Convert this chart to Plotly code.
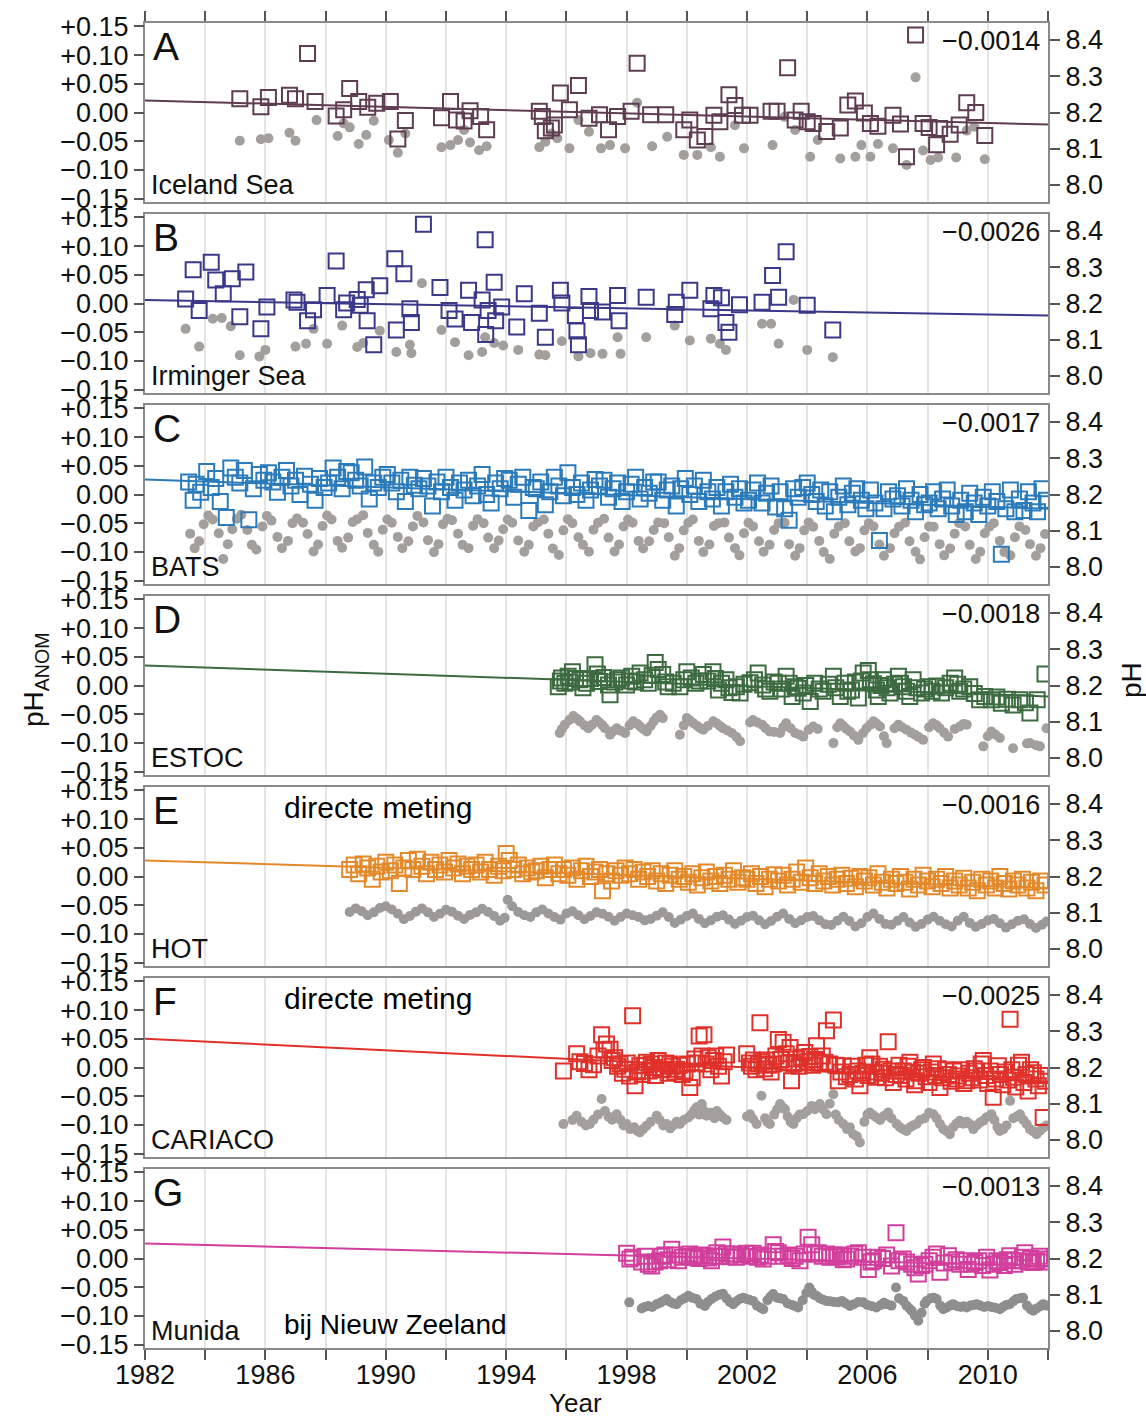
import plotly.graph_objects as go

# ---------------- DATA ----------------
letters = ["A", "B", "C", "D", "E", "F", "G"]
station_names = ["Iceland Sea", "Irminger Sea", "BATS", "ESTOC", "HOT", "CARIACO", "Munida"]
slope_labels = ["\u22120.0014", "\u22120.0026", "\u22120.0017", "\u22120.0018", "\u22120.0016", "\u22120.0025", "\u22120.0013"]
trend_years = [1982, 2012]
trend_start = [0.021, 0.006, 0.026, 0.035, 0.028, 0.050, 0.026]
trend_end = [-0.021, -0.021, -0.025, -0.019, -0.020, -0.025, -0.013]

anom_ticks = [-0.15, -0.10, -0.05, 0.0, 0.05, 0.10, 0.15]
anom_ticktext = ["\u22120.15", "\u22120.10", "\u22120.05", "0.00", "+0.05", "+0.10", "+0.15"]
ph_ticks = [8.0, 8.1, 8.2, 8.3, 8.4]
ph_ticktext = ["8.0", "8.1", "8.2", "8.3", "8.4"]
year_ticks = list(range(1982, 2013, 2))
year_labels = ["1982", " ", "1986", " ", "1990", " ", "1994", " ", "1998", " ", "2002", " ", "2006", " ", "2010", " "]

iceland_sq = [(1985.15,0.024),(1985.85,0.010),(1986.1,0.026),(1986.8,0.030),(1987.0,0.024),(1987.4,0.103),(1987.65,0.019),
 (1988.35,-0.006),(1988.6,0.005),(1988.8,0.042),(1989.1,0.019),(1989.4,0.009),(1989.7,0.016),(1990.15,0.019),(1990.4,-0.046),
 (1990.65,-0.014),(1991.85,-0.009),(1992.15,0.019),(1992.35,-0.013),(1992.6,-0.015),(1992.8,0.003),(1993.15,-0.007),(1993.35,-0.030),
 (1995.1,0.002),(1995.2,-0.007),(1995.3,-0.032),(1995.5,-0.027),(1995.6,-0.022),(1995.8,0.034),(1996.1,0.005),(1996.4,0.047),
 (1996.75,-0.010),(1997.1,-0.004),(1997.4,-0.030),(1997.7,-0.007),(1998.15,0.002),(1998.35,0.086),(1998.8,-0.004),(1999.3,-0.004),
 (1999.9,-0.030),(2000.1,-0.013),(2000.35,-0.048),(2000.6,-0.042),(2000.9,-0.005),(2001.1,-0.016),(2001.4,0.031),(2001.6,0.012),
 (2001.85,-0.005),(2002.1,-0.005),(2002.8,0.002),(2003.0,0.002),(2003.35,0.078),(2003.6,-0.013),(2003.8,0.002),(2004.0,-0.016),
 (2004.2,-0.019),(2004.65,-0.033),(2005.1,-0.027),(2005.35,0.013),(2005.6,0.020),(2005.9,-0.001),(2006.1,-0.019),(2006.35,-0.024),
 (2006.85,-0.005),(2007.1,-0.020),(2007.3,-0.077),(2007.6,0.135),(2007.85,-0.019),(2008.05,-0.026),(2008.3,-0.056),(2008.4,-0.028),
 (2008.75,-0.038),(2009.05,-0.022),(2009.3,0.017),(2009.6,0.000),(2009.9,-0.040)]
iceland_dots = [(1985.15,8.122),(1985.85,8.126),(1986.1,8.129),(1986.8,8.144),(1987.0,8.122),(1987.7,8.179),(1988.4,8.135),
 (1988.6,8.170),(1988.8,8.159),(1989.1,8.113),(1989.35,8.138),(1989.6,8.177),(1990.1,8.124),(1990.4,8.089),(1990.65,8.142),
 (1991.85,8.104),(1992.15,8.110),(1992.4,8.124),(1992.6,8.152),(1992.8,8.117),(1993.1,8.096),(1993.35,8.107),(1995.1,8.104),
 (1995.3,8.119),(1995.5,8.142),(1995.7,8.129),(1996.1,8.101),(1996.4,8.179),(1996.75,8.147),(1997.15,8.101),(1997.45,8.110),
 (1997.95,8.101),(1998.35,8.227),(1998.85,8.107),(1999.35,8.133),(1999.9,8.083),(2000.35,8.083),(2000.8,8.104),(2001.1,8.078),
 (2001.6,8.165),(2001.9,8.101),(2002.85,8.110),(2003.25,8.188),(2003.6,8.152),(2004.1,8.078),(2004.35,8.124),(2005.1,8.073),
 (2005.6,8.078),(2005.8,8.110),(2006.1,8.078),(2006.35,8.113),(2006.85,8.101),(2007.3,8.055),(2007.6,8.297),(2007.85,8.095),
 (2008.1,8.069),(2008.35,8.076),(2008.95,8.076),(2009.3,8.150),(2009.55,8.161),(2009.9,8.071)]

irminger_sq = [(1983.35,0.008),(1983.6,0.059),(1983.8,-0.012),(1984.2,0.072),(1984.35,0.041),(1984.6,0.017),(1984.9,0.043),
 (1985.15,-0.023),(1985.35,0.055),(1985.85,-0.044),(1986.05,-0.006),(1986.95,0.006),(1987.05,0.002),(1987.4,-0.030),(1987.6,-0.011),
 (1988.05,0.014),(1988.35,0.074),(1988.6,-0.011),(1988.7,0.001),(1989.05,0.007),(1989.15,-0.003),(1989.35,0.024),(1989.38,-0.030),
 (1989.6,-0.072),(1989.8,0.031),(1990.3,0.078),(1990.35,-0.046),(1990.6,0.052),(1990.8,-0.009),(1990.85,-0.033),(1991.25,0.138),
 (1991.8,0.028),(1992.1,-0.012),(1992.3,-0.027),(1992.75,0.023),(1992.85,-0.033),(1993.2,0.006),(1993.3,0.111),(1993.32,-0.054),
 (1993.4,-0.012),(1993.6,0.037),(1993.65,-0.030),(1993.85,-0.006),(1994.35,-0.041),(1994.6,0.017),(1995.1,-0.017),(1995.3,-0.059),
 (1995.8,0.023),(1995.85,0.001),(1996.3,-0.021),(1996.35,-0.048),(1996.4,-0.072),(1996.75,0.012),(1996.8,-0.012),(1997.2,-0.015),
 (1997.7,0.014),(1997.75,-0.030),(1998.65,0.011),(1999.6,-0.019),(1999.65,0.002),(2000.1,0.023),(2000.8,-0.009),(2000.9,0.014),
 (2001.15,0.010),(2001.3,-0.033),(2001.4,-0.050),(2001.75,-0.002),(2002.5,0.002),(2002.85,0.049),(2003.05,0.011),(2003.3,0.090),
 (2004.0,-0.003),(2004.85,-0.046)]
irminger_dots = [(1983.35,8.130),(1983.8,8.081),(1984.25,8.158),(1984.55,8.160),(1984.85,8.137),(1985.15,8.057),(1985.8,8.054),
 (1986.0,8.072),(1987.0,8.081),(1987.35,8.089),(1987.6,8.130),(1988.05,8.089),(1988.55,8.139),(1989.05,8.080),(1989.25,8.091),
 (1989.8,8.125),(1990.35,8.066),(1990.8,8.086),(1990.85,8.063),(1991.2,8.256),(1991.85,8.127),(1992.3,8.093),(1992.75,8.057),
 (1993.2,8.066),(1993.3,8.107),(1993.6,8.091),(1993.9,8.084),(1994.4,8.072),(1995.1,8.059),(1995.3,8.057),(1995.85,8.096),
 (1996.4,8.054),(1996.8,8.063),(1997.2,8.061),(1997.7,8.107),(1997.8,8.061),(1998.65,8.107),(1999.6,8.139),(2000.1,8.098),
 (2000.8,8.103),(2001.1,8.089),(2001.3,8.072),(2002.5,8.144),(2002.8,8.144),(2003.05,8.089),(2003.55,8.210),(2004.0,8.072),
 (2004.85,8.052)]

bats_sq = [(1983.45,0.022),(1983.6,-0.010),(1983.7,0.018),(1983.85,0.004),
 (1984.05,0.040),(1984.2,0.012),(1984.35,0.028),(1984.5,-0.012),(1984.7,-0.040),(1984.85,0.046),
 (1985.0,0.030),(1985.15,0.020),(1985.3,0.042),(1985.45,-0.044),(1985.6,0.010),(1985.8,0.035),(1985.95,0.025),
 (1986.1,0.038),(1986.25,0.022),(1986.4,0.004),(1986.55,0.030),(1986.7,0.042),(1986.85,0.015),
 (1987.0,0.025),(1987.15,0.000),(1987.3,0.032),(1987.5,0.018),(1987.65,-0.010),(1987.8,0.028),(1987.95,0.012),
 (1988.1,0.020),(1988.25,0.046),(1988.4,0.030),(1988.55,0.010),(1988.7,0.040),(1988.85,0.038),
 (1989.0,0.025),(1989.15,0.015),(1989.3,0.048),(1989.45,-0.008),(1989.6,0.020),(1989.75,0.012),(1989.9,0.030),
 (1990.05,0.035),(1990.2,0.020),(1990.35,0.005),(1990.5,0.025),(1990.65,-0.012),(1990.8,0.030),(1990.95,0.016),
 (1991.1,0.010),(1991.25,0.028),(1991.4,0.015),(1991.55,-0.020),(1991.7,0.022),(1991.85,0.005),
 (1992.0,0.030),(1992.15,0.012),(1992.3,-0.010),(1992.45,0.020),(1992.6,0.008),(1992.75,0.025),(1992.9,-0.002),
 (1993.05,0.015),(1993.2,0.035),(1993.35,0.000),(1993.5,-0.015),(1993.65,0.020),(1993.8,0.010),(1993.95,0.028),
 (1994.1,0.025),(1994.25,-0.005),(1994.4,0.018),(1994.55,0.030),(1994.75,-0.028),(1994.9,0.012),
 (1995.0,0.010),(1995.15,0.022),(1995.3,-0.018),(1995.45,0.005),(1995.6,0.030),(1995.75,0.015),(1995.9,-0.002),
 (1996.05,0.038),(1996.2,0.012),(1996.35,0.000),(1996.5,0.020),(1996.65,-0.010),(1996.8,0.008),(1996.95,0.026),
 (1997.1,0.015),(1997.25,0.025),(1997.4,-0.005),(1997.55,0.010),(1997.7,0.020),(1997.85,-0.012),
 (1998.0,0.005),(1998.15,0.018),(1998.3,0.030),(1998.45,-0.008),(1998.6,0.012),(1998.75,0.002),(1998.9,0.022),
 (1999.05,0.022),(1999.2,-0.010),(1999.35,0.008),(1999.5,0.015),(1999.65,-0.020),(1999.8,0.010),(1999.95,0.028),
 (2000.1,0.000),(2000.25,0.015),(2000.4,-0.012),(2000.55,0.025),(2000.7,0.005),(2000.85,-0.008),
 (2001.0,0.012),(2001.15,-0.020),(2001.3,0.005),(2001.45,0.018),(2001.6,-0.005),(2001.75,0.010),(2001.9,-0.015),
 (2002.05,-0.010),(2002.2,0.008),(2002.35,0.020),(2002.5,-0.015),(2002.65,0.002),(2002.8,0.015),(2002.95,-0.022),
 (2003.1,0.005),(2003.25,-0.025),(2003.4,-0.045),(2003.55,0.010),(2003.7,-0.005),(2003.85,0.012),
 (2004.0,0.020),(2004.15,0.000),(2004.3,-0.012),(2004.45,0.008),(2004.6,-0.020),(2004.75,0.005),(2004.9,-0.030),
 (2005.05,-0.005),(2005.2,0.015),(2005.35,-0.018),(2005.5,0.002),(2005.65,0.010),(2005.8,-0.010),(2005.95,-0.025),
 (2006.1,0.008),(2006.25,-0.015),(2006.4,-0.080),(2006.55,-0.025),(2006.7,0.005),(2006.85,-0.008),
 (2007.0,-0.002),(2007.15,-0.020),(2007.3,0.010),(2007.45,-0.010),(2007.6,-0.030),(2007.75,0.000),(2007.9,-0.018),
 (2008.05,-0.015),(2008.2,0.005),(2008.35,-0.025),(2008.5,-0.008),(2008.65,0.008),(2008.8,-0.020),(2008.95,-0.035),
 (2009.1,-0.010),(2009.25,-0.030),(2009.4,0.002),(2009.55,-0.015),(2009.7,-0.035),(2009.85,-0.005),
 (2010.0,-0.020),(2010.15,0.005),(2010.3,-0.012),(2010.45,-0.104),(2010.6,-0.025),(2010.75,0.008),(2010.9,-0.030),
 (2011.05,-0.008),(2011.2,-0.028),(2011.35,0.005),(2011.5,-0.015),(2011.65,-0.030),(2011.8,0.010),(2011.95,-0.010)]
bats_dots = [(1983.5,8.092),(1983.65,8.052),(1983.8,8.071),(1983.95,8.118),
 (1984.1,8.142),(1984.25,8.131),(1984.45,8.093),(1984.6,8.022),(1984.75,8.063),(1984.9,8.104),
 (1985.05,8.133),(1985.2,8.144),(1985.4,8.102),(1985.55,8.061),(1985.7,8.048),(1985.9,8.112),
 (1986.05,8.141),(1986.2,8.128),(1986.4,8.083),(1986.55,8.052),(1986.75,8.072),(1986.9,8.121),
 (1987.05,8.134),(1987.25,8.122),(1987.4,8.091),(1987.6,8.043),(1987.75,8.062),(1987.9,8.113),
 (1988.05,8.142),(1988.2,8.131),(1988.4,8.072),(1988.55,8.053),(1988.75,8.081),(1988.9,8.124),
 (1989.05,8.132),(1989.25,8.143),(1989.4,8.094),(1989.6,8.061),(1989.75,8.042),(1989.9,8.103),
 (1990.05,8.131),(1990.2,8.122),(1990.4,8.083),(1990.55,8.052),(1990.75,8.071),(1990.9,8.112),
 (1991.05,8.141),(1991.25,8.123),(1991.4,8.074),(1991.6,8.041),(1991.75,8.063),(1991.9,8.118),
 (1992.05,8.133),(1992.2,8.129),(1992.4,8.092),(1992.55,8.061),(1992.75,8.052),(1992.9,8.114),
 (1993.05,8.132),(1993.25,8.121),(1993.4,8.081),(1993.6,8.052),(1993.75,8.073),(1993.9,8.104),
 (1994.05,8.131),(1994.2,8.122),(1994.4,8.073),(1994.6,8.042),(1994.75,8.061),(1994.9,8.112),
 (1995.05,8.123),(1995.25,8.131),(1995.4,8.092),(1995.55,8.051),(1995.75,8.033),(1995.9,8.101),
 (1996.05,8.132),(1996.2,8.121),(1996.4,8.082),(1996.55,8.061),(1996.75,8.042),(1996.9,8.103),
 (1997.05,8.122),(1997.25,8.133),(1997.4,8.081),(1997.6,8.043),(1997.75,8.062),(1997.9,8.112),
 (1998.05,8.131),(1998.2,8.122),(1998.4,8.072),(1998.55,8.051),(1998.75,8.071),(1998.9,8.102),
 (1999.05,8.123),(1999.25,8.121),(1999.4,8.082),(1999.6,8.031),(1999.75,8.052),(1999.9,8.101),
 (2000.05,8.122),(2000.2,8.131),(2000.4,8.072),(2000.55,8.041),(2000.75,8.062),(2000.9,8.113),
 (2001.05,8.121),(2001.25,8.123),(2001.4,8.081),(2001.6,8.052),(2001.75,8.032),(2001.9,8.093),
 (2002.05,8.122),(2002.2,8.112),(2002.4,8.071),(2002.55,8.042),(2002.75,8.061),(2002.9,8.102),
 (2003.05,8.121),(2003.25,8.122),(2003.4,8.063),(2003.6,8.031),(2003.75,8.052),(2003.9,8.101),
 (2004.05,8.123),(2004.2,8.111),(2004.4,8.072),(2004.55,8.041),(2004.75,8.022),(2004.9,8.092),
 (2005.05,8.112),(2005.25,8.121),(2005.4,8.071),(2005.6,8.043),(2005.75,8.052),(2005.9,8.101),
 (2006.05,8.121),(2006.2,8.112),(2006.4,8.062),(2006.55,8.031),(2006.75,8.052),(2006.9,8.093),
 (2007.05,8.111),(2007.25,8.122),(2007.4,8.071),(2007.6,8.042),(2007.75,8.021),(2007.9,8.082),
 (2008.05,8.112),(2008.2,8.111),(2008.4,8.063),(2008.55,8.032),(2008.75,8.051),(2008.9,8.092),
 (2009.05,8.121),(2009.25,8.112),(2009.4,8.061),(2009.6,8.022),(2009.75,8.042),(2009.9,8.093),
 (2010.05,8.111),(2010.2,8.121),(2010.4,8.072),(2010.55,8.041),(2010.75,8.032),(2010.9,8.082),
 (2011.05,8.112),(2011.25,8.102),(2011.4,8.063),(2011.6,8.031),(2011.75,8.052),(2011.9,8.091)]

estoc_sq = [(1995.73,-0.002),(1995.8,0.008),(1995.84,0.013),(1995.95,0.004),(1996.06,0.016),(1996.12,0.006),(1996.2,0.024),
 (1996.3,0.012),(1996.45,0.010),(1996.55,-0.004),(1996.67,0.004),(1996.8,0.012),(1996.95,0.036),(1997.03,0.020),(1997.1,0.007),
 (1997.25,0.014),(1997.4,0.001),(1997.45,-0.016),(1997.6,0.006),(1997.7,0.010),(1997.83,0.013),(1998.0,0.001),(1998.1,0.008),
 (1998.17,0.016),(1998.3,0.006),(1998.45,0.022),(1998.6,0.010),(1998.72,0.004),(1998.85,0.018),(1998.95,0.040),(1999.05,0.028),
 (1999.2,0.019),(1999.3,0.006),(1999.38,-0.002),(1999.55,0.004),(1999.77,-0.002),(1999.9,0.010),(2000.0,0.024),(2000.15,0.013),
 (2000.3,0.004),(2000.42,0.008),(2000.55,0.019),(2000.7,0.008),(2000.87,0.024),(2000.95,0.012),(2001.05,-0.008),(2001.15,0.004),
 (2001.3,0.010),(2001.4,-0.004),(2001.5,-0.012),(2001.65,-0.002),(2001.77,-0.013),(2001.9,0.002),(2002.1,0.005),(2002.25,0.010),
 (2002.37,0.022),(2002.52,0.001),(2002.62,-0.006),(2002.76,-0.010),(2002.9,0.006),(2003.04,0.004),(2003.15,-0.006),(2003.3,0.016),
 (2003.4,0.004),(2003.5,-0.019),(2003.6,-0.002),(2003.7,-0.005),(2003.87,-0.013),(2003.95,0.000),(2004.1,-0.028),(2004.25,0.004),
 (2004.4,-0.006),(2004.53,-0.010),(2004.7,0.002),(2004.87,0.016),(2004.95,-0.004),(2005.1,-0.019),(2005.25,0.004),(2005.35,-0.010),
 (2005.47,-0.008),(2005.6,0.006),(2005.7,-0.022),(2005.8,0.008),(2005.86,0.022),(2006.03,0.026),(2006.1,0.010),(2006.2,0.003),
 (2006.3,-0.008),(2006.36,-0.019),(2006.45,0.000),(2006.53,0.010),(2006.65,-0.004),(2006.75,-0.013),(2006.9,0.002),(2007.03,0.016),
 (2007.1,0.004),(2007.2,-0.002),(2007.3,-0.010),(2007.41,-0.019),(2007.52,0.010),(2007.65,-0.004),(2007.8,-0.013),(2007.9,-0.006),
 (2008.02,-0.002),(2008.15,-0.010),(2008.3,-0.001),(2008.46,-0.013),(2008.6,-0.004),(2008.75,0.004),(2008.9,0.013),(2009.0,0.002),
 (2009.07,-0.010),(2009.2,-0.006),(2009.4,-0.002),(2009.55,-0.014),(2009.73,-0.025),(2009.9,-0.019),(2010.12,-0.025),(2010.3,-0.020),
 (2010.45,-0.031),(2010.65,-0.024),(2010.84,-0.034),(2011.06,-0.025),(2011.25,-0.030),(2011.4,-0.048),(2011.64,-0.025),(2011.9,0.020)]
estoc_dots = [(1995.78,8.069),(1995.85,8.080),(1995.95,8.092),(1996.1,8.105),(1996.23,8.116),(1996.35,8.108),(1996.45,8.101),
 (1996.6,8.090),(1996.73,8.082),(1996.85,8.092),(1997.0,8.105),(1997.1,8.098),(1997.2,8.090),(1997.28,8.082),(1997.45,8.064),
 (1997.55,8.074),(1997.67,8.082),(1997.8,8.075),(1997.95,8.069),(1998.1,8.090),(1998.22,8.101),(1998.35,8.094),(1998.45,8.087),
 (1998.55,8.080),(1998.67,8.073),(1998.8,8.088),(1998.9,8.101),(1999.0,8.112),(1999.11,8.119),(1999.2,8.110),(1999.77,8.064),
 (1999.9,8.090),(2000.0,8.110),(2000.1,8.104),(2000.22,8.096),(2000.35,8.088),(2000.45,8.082),(2000.55,8.078),(2000.7,8.088),
 (2000.88,8.101),(2001.0,8.095),(2001.1,8.088),(2001.2,8.082),(2001.35,8.076),(2001.5,8.069),(2001.65,8.058),(2001.77,8.046),
 (2002.1,8.098),(2002.2,8.105),(2002.35,8.098),(2002.5,8.092),(2002.62,8.082),(2002.75,8.073),(2002.9,8.072),(2003.1,8.069),
 (2003.2,8.085),(2003.3,8.096),(2003.45,8.082),(2003.6,8.069),(2003.75,8.064),(2003.87,8.059),(2004.05,8.078),(2004.2,8.087),
 (2004.35,8.080),(2004.87,8.041),(2005.0,8.085),(2005.1,8.096),(2005.2,8.088),(2005.3,8.080),(2005.42,8.073),(2005.55,8.062),
 (2005.7,8.050),(2005.85,8.068),(2005.97,8.082),(2006.1,8.092),(2006.2,8.101),(2006.3,8.095),(2006.42,8.087),(2006.55,8.060),
 (2006.64,8.041),(2006.9,8.082),(2007.03,8.092),(2007.15,8.085),(2007.3,8.078),(2007.45,8.070),(2007.58,8.064),(2007.7,8.058),
 (2007.85,8.050),(2008.05,8.085),(2008.18,8.096),(2008.3,8.090),(2008.4,8.082),(2008.55,8.070),(2008.68,8.059),(2008.9,8.080),
 (2009.07,8.087),(2009.2,8.094),(2009.3,8.092),(2009.85,8.032),(2010.0,8.060),(2010.12,8.073),(2010.25,8.065),(2010.4,8.055),
 (2010.84,8.027),(2011.3,8.040),(2011.4,8.041),(2011.6,8.035),(2011.73,8.032),(2011.95,8.082)]

hot_sq = [(1988.8,0.012),(1988.95,0.020),(1989.1,0.005),(1989.25,0.022),(1989.4,0.015),(1989.55,-0.005),(1989.7,0.018),(1989.85,0.008),
 (1990.0,0.025),(1990.15,0.010),(1990.3,0.020),(1990.45,-0.012),(1990.6,0.015),(1990.75,0.028),(1990.9,0.012),
 (1991.05,0.030),(1991.2,0.018),(1991.35,0.005),(1991.5,0.025),(1991.65,0.012),(1991.8,0.020),(1991.95,0.008),
 (1992.1,0.028),(1992.25,0.015),(1992.4,0.022),(1992.55,0.005),(1992.7,0.018),(1992.85,0.012),
 (1993.0,0.020),(1993.15,0.008),(1993.3,0.025),(1993.45,0.012),(1993.6,0.002),(1993.75,0.018),(1993.9,0.010),
 (1994.0,0.040),(1994.1,0.028),(1994.25,0.012),(1994.4,0.020),(1994.55,0.005),(1994.7,0.015),(1994.85,0.008),
 (1995.0,0.010),(1995.15,0.018),(1995.3,-0.002),(1995.45,0.012),(1995.6,0.020),(1995.75,0.005),(1995.9,0.012),
 (1996.05,0.002),(1996.2,0.015),(1996.35,-0.005),(1996.5,0.010),(1996.65,0.018),(1996.8,0.000),(1996.95,0.008),
 (1997.1,0.012),(1997.2,-0.025),(1997.35,0.005),(1997.5,-0.008),(1997.65,0.010),(1997.8,0.002),(1997.95,0.015),
 (1998.1,0.005),(1998.25,0.012),(1998.4,-0.005),(1998.55,0.008),(1998.7,0.000),(1998.85,0.010),
 (1999.0,-0.008),(1999.15,0.005),(1999.3,-0.012),(1999.45,0.002),(1999.6,0.010),(1999.75,-0.005),(1999.9,0.000),
 (2000.05,-0.010),(2000.2,0.005),(2000.35,-0.015),(2000.5,-0.002),(2000.65,0.008),(2000.8,-0.008),(2000.95,0.000),
 (2001.1,-0.012),(2001.25,0.002),(2001.4,-0.005),(2001.55,0.010),(2001.7,-0.010),(2001.85,-0.002),
 (2002.0,-0.005),(2002.15,0.005),(2002.3,-0.012),(2002.45,0.000),(2002.6,-0.018),(2002.75,-0.005),(2002.9,0.003),
 (2003.05,-0.008),(2003.2,0.002),(2003.35,-0.015),(2003.5,-0.005),(2003.65,0.008),(2003.8,-0.010),(2003.95,0.015),
 (2004.1,-0.002),(2004.25,-0.012),(2004.4,0.005),(2004.55,-0.008),(2004.7,0.000),(2004.85,-0.015),
 (2005.0,-0.005),(2005.15,0.002),(2005.3,-0.012),(2005.45,-0.003),(2005.6,-0.018),(2005.75,0.000),(2005.9,-0.008),
 (2006.05,-0.002),(2006.2,-0.015),(2006.35,0.005),(2006.5,-0.010),(2006.65,-0.020),(2006.8,-0.005),(2006.95,-0.012),
 (2007.1,0.000),(2007.25,-0.010),(2007.4,-0.022),(2007.55,-0.005),(2007.7,-0.015),(2007.85,0.002),
 (2008.0,-0.008),(2008.15,-0.018),(2008.3,-0.005),(2008.45,-0.012),(2008.6,0.000),(2008.75,-0.020),(2008.9,-0.008),
 (2009.05,-0.015),(2009.2,-0.003),(2009.35,-0.020),(2009.5,-0.010),(2009.65,-0.025),(2009.8,-0.005),(2009.95,-0.015),
 (2010.1,-0.008),(2010.25,-0.020),(2010.4,0.000),(2010.55,-0.012),(2010.7,-0.022),(2010.85,-0.008),
 (2011.0,-0.015),(2011.15,-0.005),(2011.3,-0.020),(2011.45,-0.010),(2011.6,-0.025),(2011.75,-0.008),(2011.9,-0.015)]
hot_dots = [(1988.8,8.102),(1989.0,8.112),(1989.2,8.104),(1989.4,8.093),(1989.6,8.101),(1989.8,8.113),
 (1990.0,8.118),(1990.2,8.109),(1990.4,8.097),(1990.6,8.082),(1990.8,8.091),
 (1991.0,8.103),(1991.2,8.112),(1991.4,8.101),(1991.6,8.088),(1991.8,8.097),
 (1992.0,8.108),(1992.2,8.103),(1992.4,8.092),(1992.6,8.083),(1992.8,8.094),
 (1993.0,8.101),(1993.2,8.111),(1993.4,8.102),(1993.6,8.091),(1993.8,8.078),(1993.95,8.086),
 (1994.05,8.136),(1994.2,8.118),(1994.4,8.102),(1994.6,8.093),(1994.8,8.088),
 (1995.0,8.101),(1995.2,8.109),(1995.4,8.098),(1995.6,8.088),(1995.8,8.081),
 (1996.0,8.098),(1996.2,8.104),(1996.4,8.093),(1996.6,8.082),(1996.8,8.091),
 (1997.0,8.101),(1997.2,8.097),(1997.4,8.089),(1997.6,8.078),(1997.8,8.088),
 (1998.0,8.098),(1998.2,8.093),(1998.4,8.088),(1998.6,8.079),(1998.8,8.083),
 (1999.0,8.092),(1999.2,8.101),(1999.4,8.088),(1999.6,8.072),(1999.8,8.081),
 (2000.0,8.091),(2000.2,8.098),(2000.4,8.083),(2000.6,8.071),(2000.8,8.079),
 (2001.0,8.089),(2001.2,8.093),(2001.4,8.081),(2001.6,8.069),(2001.8,8.078),
 (2002.0,8.088),(2002.2,8.092),(2002.4,8.079),(2002.6,8.068),(2002.8,8.077),
 (2003.0,8.089),(2003.2,8.098),(2003.4,8.083),(2003.6,8.071),(2003.8,8.079),
 (2004.0,8.088),(2004.2,8.091),(2004.4,8.079),(2004.6,8.068),(2004.8,8.066),
 (2005.0,8.078),(2005.2,8.089),(2005.4,8.077),(2005.6,8.062),(2005.8,8.071),
 (2006.0,8.088),(2006.2,8.098),(2006.4,8.083),(2006.6,8.069),(2006.8,8.067),
 (2007.0,8.078),(2007.2,8.088),(2007.4,8.073),(2007.6,8.061),(2007.8,8.069),
 (2008.0,8.081),(2008.2,8.089),(2008.4,8.078),(2008.6,8.068),(2008.8,8.062),
 (2009.0,8.078),(2009.2,8.089),(2009.4,8.072),(2009.6,8.061),(2009.8,8.069),
 (2010.0,8.079),(2010.2,8.083),(2010.4,8.071),(2010.6,8.059),(2010.8,8.068),
 (2011.0,8.078),(2011.2,8.082),(2011.4,8.069),(2011.6,8.058),(2011.8,8.067),(2011.95,8.076)]

cariaco_sq = [(1995.9,-0.006),(1996.34,0.024),(1996.45,0.010),(1996.6,0.007),(1996.75,-0.004),(1996.9,0.005),(1997.05,0.020),
 (1997.17,0.057),(1997.25,0.030),(1997.33,0.041),(1997.45,0.032),(1997.52,0.012),(1997.6,0.017),(1997.7,0.002),(1997.78,0.006),
 (1997.86,-0.010),(1997.94,-0.003),(1998.02,0.008),(1998.1,-0.015),(1998.2,0.090),(1998.28,-0.032),(1998.36,-0.008),(1998.44,0.003),
 (1998.52,-0.012),(1998.6,0.004),(1998.66,0.009),(1998.75,-0.006),(1998.82,0.006),(1998.89,0.000),(1998.96,-0.014),(1999.05,0.012),
 (1999.13,-0.004),(1999.22,-0.003),(1999.3,0.008),(1999.38,-0.010),(1999.44,0.006),(1999.52,0.002),(1999.6,-0.008),(1999.66,-0.003),
 (1999.75,0.004),(1999.85,-0.012),(1999.94,-0.006),(2000.02,0.006),(2000.1,-0.035),(2000.18,-0.018),(2000.27,0.015),(2000.34,0.008),
 (2000.41,0.055),(2000.5,0.020),(2000.57,0.057),(2000.64,0.006),(2000.71,0.017),(2000.8,-0.004),(2000.88,0.012),(2000.96,0.020),
 (2001.05,0.002),(2001.15,-0.015),(2001.24,0.010),(2001.32,0.022),(2001.99,0.024),(2002.08,0.008),(2002.15,0.002),(2002.21,0.013),
 (2002.3,-0.004),(2002.38,0.006),(2002.43,0.078),(2002.5,0.010),(2002.58,-0.002),(2002.65,0.013),(2002.72,0.004),(2002.8,-0.008),
 (2002.87,0.006),(2002.96,0.020),(2003.04,0.049),(2003.12,0.014),(2003.2,0.044),(2003.3,0.024),(2003.38,0.008),(2003.43,0.035),
 (2003.48,-0.023),(2003.56,0.006),(2003.65,0.015),(2003.73,0.002),(2003.8,0.018),(2003.92,0.026),(2004.0,0.010),(2004.09,0.019),
 (2004.18,0.004),(2004.25,0.014),(2004.31,0.038),(2004.4,0.008),(2004.5,0.020),(2004.59,0.009),(2004.64,0.064),(2004.75,0.006),
 (2004.87,0.083),(2004.95,0.004),(2005.03,-0.023),(2005.12,-0.008),(2005.2,0.003),(2005.3,-0.016),(2005.42,-0.012),(2005.5,0.002),
 (2005.6,-0.020),(2005.68,-0.006),(2005.75,-0.032),(2005.85,-0.010),(2005.95,0.004),(2006.02,-0.014),(2006.08,0.017),(2006.15,0.006),
 (2006.22,-0.008),(2006.3,-0.017),(2006.4,0.002),(2006.47,-0.010),(2006.53,-0.003),(2006.6,-0.018),(2006.69,0.045),(2006.78,-0.006),
 (2006.86,-0.026),(2006.95,-0.012),(2007.05,0.004),(2007.12,-0.014),(2007.19,-0.006),(2007.28,-0.020),(2007.35,0.002),(2007.41,0.009),
 (2007.5,-0.008),(2007.57,-0.030),(2007.63,-0.023),(2007.72,-0.010),(2007.8,-0.004),(2007.86,0.000),(2007.95,-0.016),(2008.05,-0.026),
 (2008.12,-0.008),(2008.19,0.006),(2008.27,-0.014),(2008.35,-0.002),(2008.41,-0.035),(2008.5,-0.018),(2008.6,-0.004),(2008.69,-0.012),
 (2008.78,-0.024),(2008.87,-0.006),(2008.95,-0.020),(2009.02,-0.015),(2009.1,-0.004),(2009.2,-0.028),(2009.3,-0.023),(2009.38,-0.010),
 (2009.47,-0.018),(2009.55,-0.002),(2009.63,-0.006),(2009.72,-0.022),(2009.78,0.006),(2009.85,0.012),(2009.93,-0.014),(2010.0,-0.028),
 (2010.08,-0.006),(2010.18,-0.052),(2010.26,-0.020),(2010.35,0.003),(2010.42,-0.012),(2010.5,-0.030),(2010.58,-0.008),(2010.66,-0.022),
 (2010.74,0.084),(2010.8,-0.004),(2010.85,-0.017),(2010.93,-0.034),(2011.02,0.004),(2011.12,0.009),(2011.2,-0.026),(2011.27,-0.012),
 (2011.34,-0.041),(2011.42,-0.004),(2011.51,-0.009),(2011.6,-0.020),(2011.68,-0.032),(2011.76,-0.014),(2011.84,-0.087),(2011.92,-0.024)]
cariaco_dots = [(1995.9,8.044),(1996.2,8.055),(1996.34,8.067),(1996.5,8.050),(1996.65,8.040),(1996.78,8.044),(1996.9,8.056),
 (1997.05,8.070),(1997.17,8.113),(1997.28,8.080),(1997.4,8.064),(1997.52,8.056),(1997.67,8.071),(1997.8,8.055),(1997.9,8.040),
 (1998.0,8.044),(1998.12,8.030),(1998.25,8.035),(1998.36,8.025),(1998.44,8.021),(1998.55,8.030),(1998.66,8.039),(1998.8,8.050),
 (1999.0,8.067),(1999.1,8.055),(1999.22,8.040),(1999.33,8.044),(1999.45,8.032),(1999.55,8.040),(1999.66,8.050),(1999.77,8.044),
 (1999.9,8.055),(2000.05,8.062),(2000.15,8.070),(2000.25,8.082),(2000.33,8.090),(2000.42,8.070),(2000.5,8.099),(2000.58,8.080),
 (2000.66,8.067),(2000.8,8.075),(2000.92,8.060),(2001.0,8.080),(2001.1,8.070),(2001.2,8.062),(2001.32,8.055),(2002.0,8.065),
 (2002.1,8.071),(2002.2,8.058),(2002.32,8.044),(2002.48,8.122),(2002.6,8.060),(2002.68,8.050),(2002.76,8.044),(2002.9,8.070),
 (2003.0,8.085),(2003.1,8.099),(2003.18,8.090),(2003.26,8.085),(2003.35,8.065),(2003.45,8.050),(2003.54,8.044),(2003.65,8.060),
 (2003.75,8.070),(2003.87,8.071),(2004.0,8.080),(2004.15,8.094),(2004.25,8.085),(2004.42,8.099),(2004.52,8.085),(2004.64,8.071),
 (2004.75,8.100),(2004.87,8.126),(2004.95,8.070),(2005.05,8.055),(2005.2,8.044),(2005.32,8.030),(2005.42,8.035),(2005.53,8.016),
 (2005.65,8.010),(2005.75,7.993),(2005.9,8.050),(2006.0,8.070),(2006.08,8.076),(2006.2,8.068),(2006.3,8.062),(2006.42,8.055),
 (2006.55,8.066),(2006.69,8.076),(2006.8,8.060),(2006.97,8.044),(2007.08,8.035),(2007.18,8.030),(2007.3,8.025),(2007.42,8.035),
 (2007.52,8.040),(2007.63,8.044),(2007.75,8.055),(2007.9,8.060),(2008.05,8.075),(2008.19,8.071),(2008.3,8.060),(2008.41,8.044),
 (2008.52,8.030),(2008.63,8.025),(2008.74,8.016),(2008.85,8.035),(2008.96,8.045),(2009.07,8.053),(2009.18,8.045),(2009.3,8.050),
 (2009.4,8.044),(2009.52,8.030),(2009.63,8.040),(2009.74,8.048),(2009.85,8.053),(2009.95,8.062),(2010.05,8.066),(2010.12,8.071),
 (2010.22,8.055),(2010.32,8.035),(2010.4,8.025),(2010.52,8.030),(2010.62,8.040),(2010.74,8.108),(2010.85,8.060),(2010.96,8.065),
 (2011.07,8.071),(2011.18,8.055),(2011.29,8.044),(2011.4,8.030),(2011.5,8.024),(2011.62,8.016),(2011.73,8.025),(2011.84,8.034),
 (2011.95,8.040)]

munida_sq = [(1998.0,0.009),(1998.11,-0.001),(1998.2,0.002),(1998.5,-0.006),(1998.62,0.004),(1998.72,-0.010),(1998.83,-0.013),
 (1998.95,-0.006),(1999.1,-0.004),(1999.18,0.004),(1999.27,0.006),(1999.38,-0.002),(1999.5,0.016),(1999.6,0.006),(1999.72,-0.004),
 (1999.85,0.002),(2000.0,0.004),(2000.1,0.008),(2000.2,0.002),(2000.27,0.005),(2000.4,0.000),(2000.5,0.006),(2000.6,0.005),
 (2000.72,0.001),(2000.82,-0.004),(2000.92,0.004),(2001.0,0.010),(2001.1,0.004),(2001.2,0.020),(2001.32,0.008),(2001.43,0.003),
 (2001.55,0.008),(2001.65,0.002),(2001.8,0.006),(2001.98,0.009),(2002.1,0.004),(2002.2,0.009),(2002.35,0.002),(2002.45,0.006),
 (2002.54,-0.001),(2002.7,0.004),(2002.87,0.024),(2002.95,0.012),(2003.04,0.010),(2003.2,0.004),(2003.37,0.006),(2003.5,0.000),
 (2003.6,0.004),(2003.76,-0.004),(2003.9,0.008),(2004.03,0.037),(2004.15,0.024),(2004.25,0.008),(2004.37,0.010),(2004.5,0.004),
 (2004.64,0.008),(2004.75,0.002),(2004.88,0.006),(2004.98,0.003),(2005.1,0.006),(2005.2,-0.002),(2005.31,-0.001),(2005.45,0.004),
 (2005.58,0.008),(2005.7,0.010),(2005.86,0.002),(2006.03,-0.019),(2006.12,-0.006),(2006.2,-0.004),(2006.35,0.002),(2006.5,0.000),
 (2006.64,0.006),(2006.8,-0.013),(2006.95,0.045),(2007.05,-0.004),(2007.19,-0.001),(2007.3,-0.006),(2007.47,-0.010),(2007.58,-0.016),
 (2007.69,-0.027),(2007.8,-0.012),(2007.91,-0.010),(2008.05,-0.004),(2008.18,0.002),(2008.3,0.008),(2008.41,-0.024),(2008.55,-0.008),
 (2008.69,0.005),(2008.8,-0.006),(2008.95,-0.002),(2009.07,-0.010),(2009.2,-0.004),(2009.35,-0.019),(2009.45,-0.010),(2009.57,-0.007),
 (2009.7,-0.004),(2009.83,-0.012),(2009.96,0.002),(2010.07,-0.020),(2010.2,-0.010),(2010.3,-0.004),(2010.4,-0.007),(2010.55,-0.012),
 (2010.65,-0.002),(2010.73,0.005),(2010.82,-0.004),(2010.9,-0.010),(2011.05,-0.004),(2011.15,0.002),(2011.23,0.010),(2011.35,-0.006),
 (2011.42,0.000),(2011.51,-0.007),(2011.62,-0.004),(2011.72,0.004),(2011.84,-0.001),(2011.95,-0.006)]
munida_dots = [(1998.09,8.079),(1998.5,8.062),(1998.6,8.066),(1998.72,8.069),(1998.85,8.066),(1999.0,8.074),(1999.12,8.078),
 (1999.2,8.082),(1999.33,8.088),(1999.45,8.080),(1999.55,8.076),(1999.66,8.074),(1999.8,8.085),(1999.92,8.090),(2000.05,8.097),
 (2000.18,8.092),(2000.32,8.088),(2000.45,8.075),(2000.6,8.069),(2000.7,8.080),(2000.82,8.088),(2000.95,8.095),(2001.08,8.100),
 (2001.2,8.103),(2001.32,8.090),(2001.43,8.080),(2001.54,8.074),(2001.65,8.082),(2001.76,8.088),(2001.87,8.092),(2001.98,8.088),
 (2002.08,8.086),(2002.2,8.083),(2002.33,8.070),(2002.45,8.064),(2002.54,8.060),(2002.68,8.085),(2002.78,8.095),(2002.87,8.102),
 (2003.0,8.092),(2003.1,8.090),(2003.2,8.088),(2003.35,8.076),(2003.5,8.072),(2003.6,8.068),(2003.7,8.065),(2003.85,8.085),
 (2003.97,8.105),(2004.07,8.120),(2004.15,8.108),(2004.22,8.100),(2004.31,8.097),(2004.42,8.090),(2004.53,8.086),(2004.64,8.083),
 (2004.75,8.082),(2004.88,8.080),(2005.03,8.079),(2005.15,8.083),(2005.28,8.076),(2005.42,8.069),(2005.55,8.074),(2005.7,8.080),
 (2005.86,8.079),(2006.0,8.072),(2006.15,8.068),(2006.3,8.065),(2006.45,8.072),(2006.55,8.078),(2006.64,8.074),(2006.8,8.070),
 (2006.95,8.120),(2007.05,8.090),(2007.19,8.083),(2007.3,8.070),(2007.4,8.062),(2007.47,8.056),(2007.58,8.042),(2007.69,8.028),
 (2007.8,8.050),(2007.9,8.075),(2007.97,8.083),(2008.1,8.090),(2008.2,8.092),(2008.3,8.088),(2008.42,8.070),(2008.52,8.060),
 (2008.62,8.064),(2008.75,8.070),(2008.85,8.074),(2008.98,8.068),(2009.1,8.066),(2009.2,8.068),(2009.3,8.065),(2009.42,8.070),
 (2009.53,8.072),(2009.63,8.074),(2009.75,8.070),(2009.88,8.066),(2010.01,8.069),(2010.12,8.066),(2010.25,8.064),(2010.4,8.060),
 (2010.5,8.066),(2010.62,8.072),(2010.73,8.074),(2010.85,8.082),(2010.95,8.088),(2011.07,8.090),(2011.17,8.092),(2011.3,8.070),
 (2011.42,8.060),(2011.51,8.056),(2011.62,8.062),(2011.75,8.068),(2011.84,8.074),(2011.95,8.070)]

square_sets = [iceland_sq, irminger_sq, bats_sq, estoc_sq, hot_sq, cariaco_sq, munida_sq]
dot_sets = [iceland_dots, irminger_dots, bats_dots, estoc_dots, hot_dots, cariaco_dots, munida_dots]

# ---------------- STYLE ----------------
colors = ["#5e3c52", "#3a3888", "#2b7bbb", "#3d6b40", "#e3892a", "#e0302a", "#d23e9c"]
dot_colors = ["#a39f9c", "#a39f9c", "#a39f9c", "#a39f9c", "#9c9a99", "#a39f9c", "#8e8e8e"]
FONT = "Liberation Sans, Arial, sans-serif"
FRAME = "#8a8a8a"
W, H = 1146, 1421
ML, MR, MT, MB = 145, 98, 23, 73
PANEL_H, STEP = 179, 191
PLOT_H = H - MT - MB

fig = go.Figure()
layout = {}
annotations = []

for i in range(7):
    top = MT + STEP * i
    d1 = 1 - (top - MT) / PLOT_H
    d0 = 1 - (top + PANEL_H - MT) / PLOT_H
    xname = "x" if i == 0 else f"x{i+1}"
    xkey = "xaxis" if i == 0 else f"xaxis{i+1}"
    yb_n = 2 * i + 1
    yo_n = 2 * i + 2
    yb_name = "y" if yb_n == 1 else f"y{yb_n}"
    yb_key = "yaxis" if yb_n == 1 else f"yaxis{yb_n}"
    yo_name = f"y{yo_n}"
    yo_key = f"yaxis{yo_n}"

    xa = dict(domain=[0, 1], range=[1982, 2012], anchor=yb_name, showline=True, mirror=True,
              linecolor=FRAME, linewidth=2, showgrid=True, gridcolor="#e4e4e4", gridwidth=1.5,
              zeroline=False, tickmode="array", tickvals=year_ticks, ticktext=year_labels,
              tickfont=dict(family=FONT, size=27, color="#111"))
    if i == 0:
        xa.update(side="top", ticks="outside", ticklen=10, tickwidth=2, tickcolor="#555",
                  showticklabels=False)
    elif i == 6:
        xa.update(side="bottom", ticks="outside", ticklen=10, tickwidth=2, tickcolor="#555",
                  showticklabels=True, ticklabelstandoff=-8)
    else:
        xa.update(ticks="", showticklabels=False)
    layout[xkey] = xa

    layout[yb_key] = dict(domain=[d0, d1], anchor=xname, side="right", range=[7.953, 8.447],
                          tickmode="array", tickvals=ph_ticks, ticktext=ph_ticktext,
                          ticks="outside", ticklen=10, tickwidth=1.5, tickcolor="#555",
                          showline=True, mirror=True, linecolor=FRAME, linewidth=2,
                          showgrid=False, zeroline=False,
                          tickfont=dict(family=FONT, size=27, color="#111"))
    layout[yo_key] = dict(overlaying=yb_name, anchor=xname, side="left", range=[-0.156, 0.156],
                          tickmode="array", tickvals=anom_ticks, ticktext=anom_ticktext,
                          ticks="outside", ticklen=10, tickwidth=1.5, tickcolor="#555",
                          showline=False, showgrid=False, zeroline=False,
                          tickfont=dict(family=FONT, size=27, color="#111"))

    dx = [p[0] for p in dot_sets[i]]
    dy = [p[1] for p in dot_sets[i]]
    fig.add_trace(go.Scatter(x=dx, y=dy, xaxis=xname, yaxis=yb_name, mode="markers",
                             marker=dict(symbol="circle", size=10, color=dot_colors[i]),
                             showlegend=False, hoverinfo="skip"))
    fig.add_trace(go.Scatter(x=trend_years, y=[trend_start[i], trend_end[i]], xaxis=xname,
                             yaxis=yo_name, mode="lines", line=dict(color=colors[i], width=2),
                             showlegend=False, hoverinfo="skip"))
    sx = [p[0] for p in square_sets[i]]
    sy = [p[1] for p in square_sets[i]]
    fig.add_trace(go.Scatter(x=sx, y=sy, xaxis=xname, yaxis=yo_name, mode="markers",
                             marker=dict(symbol="square-open", size=15, color=colors[i],
                                         line=dict(width=2, color=colors[i])),
                             showlegend=False, hoverinfo="skip"))

    annotations.append(dict(text=letters[i], xref="paper", yref="paper", x=0.007, y=d1,
                            xanchor="left", yanchor="top", showarrow=False, yshift=0,
                            font=dict(family=FONT, size=39, color="#111")))
    annotations.append(dict(text=station_names[i], xref="paper", yref="paper", x=0.004, y=d0,
                            xanchor="left", yanchor="bottom", showarrow=False, yshift=0,
                            font=dict(family=FONT, size=27, color="#111")))
    annotations.append(dict(text=slope_labels[i], xref="paper", yref="paper", x=0.9934, y=d1,
                            xanchor="right", yanchor="top", showarrow=False, yshift=-1,
                            font=dict(family=FONT, size=27, color="#111")))
    if i in (4, 5):
        annotations.append(dict(text="directe meting", xref="paper", yref="paper", x=0.152, y=d1,
                                xanchor="left", yanchor="top", showarrow=False, yshift=-2,
                                font=dict(family=FONT, size=30, color="#000")))
    if i == 6:
        annotations.append(dict(text="bij Nieuw Zeeland", xref="paper", yref="paper", x=0.152, y=d0,
                                xanchor="left", yanchor="bottom", showarrow=False, yshift=6,
                                font=dict(family=FONT, size=28, color="#000")))

annotations.append(dict(text="pH<sub>ANOM</sub>", xref="paper", yref="paper", x=(35 - ML) / (W - ML - MR),
                        y=1 - (680 - MT) / PLOT_H, xanchor="center", yanchor="middle", textangle=-90,
                        showarrow=False, font=dict(family=FONT, size=28, color="#111")))
annotations.append(dict(text="pH", xref="paper", yref="paper", x=(1131 - ML) / (W - ML - MR),
                        y=1 - (680 - MT) / PLOT_H, xanchor="center", yanchor="middle", textangle=-90,
                        showarrow=False, font=dict(family=FONT, size=28, color="#111")))
annotations.append(dict(text="Year", xref="paper", yref="paper", x=(575 - ML) / (W - ML - MR),
                        y=1 - (1403 - MT) / PLOT_H, xanchor="center", yanchor="middle",
                        showarrow=False, font=dict(family=FONT, size=26, color="#111")))

fig.update_layout(width=W, height=H, margin=dict(l=ML, r=MR, t=MT, b=MB, pad=0),
                  paper_bgcolor="white", plot_bgcolor="white", showlegend=False,
                  annotations=annotations, **layout)

fig.write_html("out.html")
